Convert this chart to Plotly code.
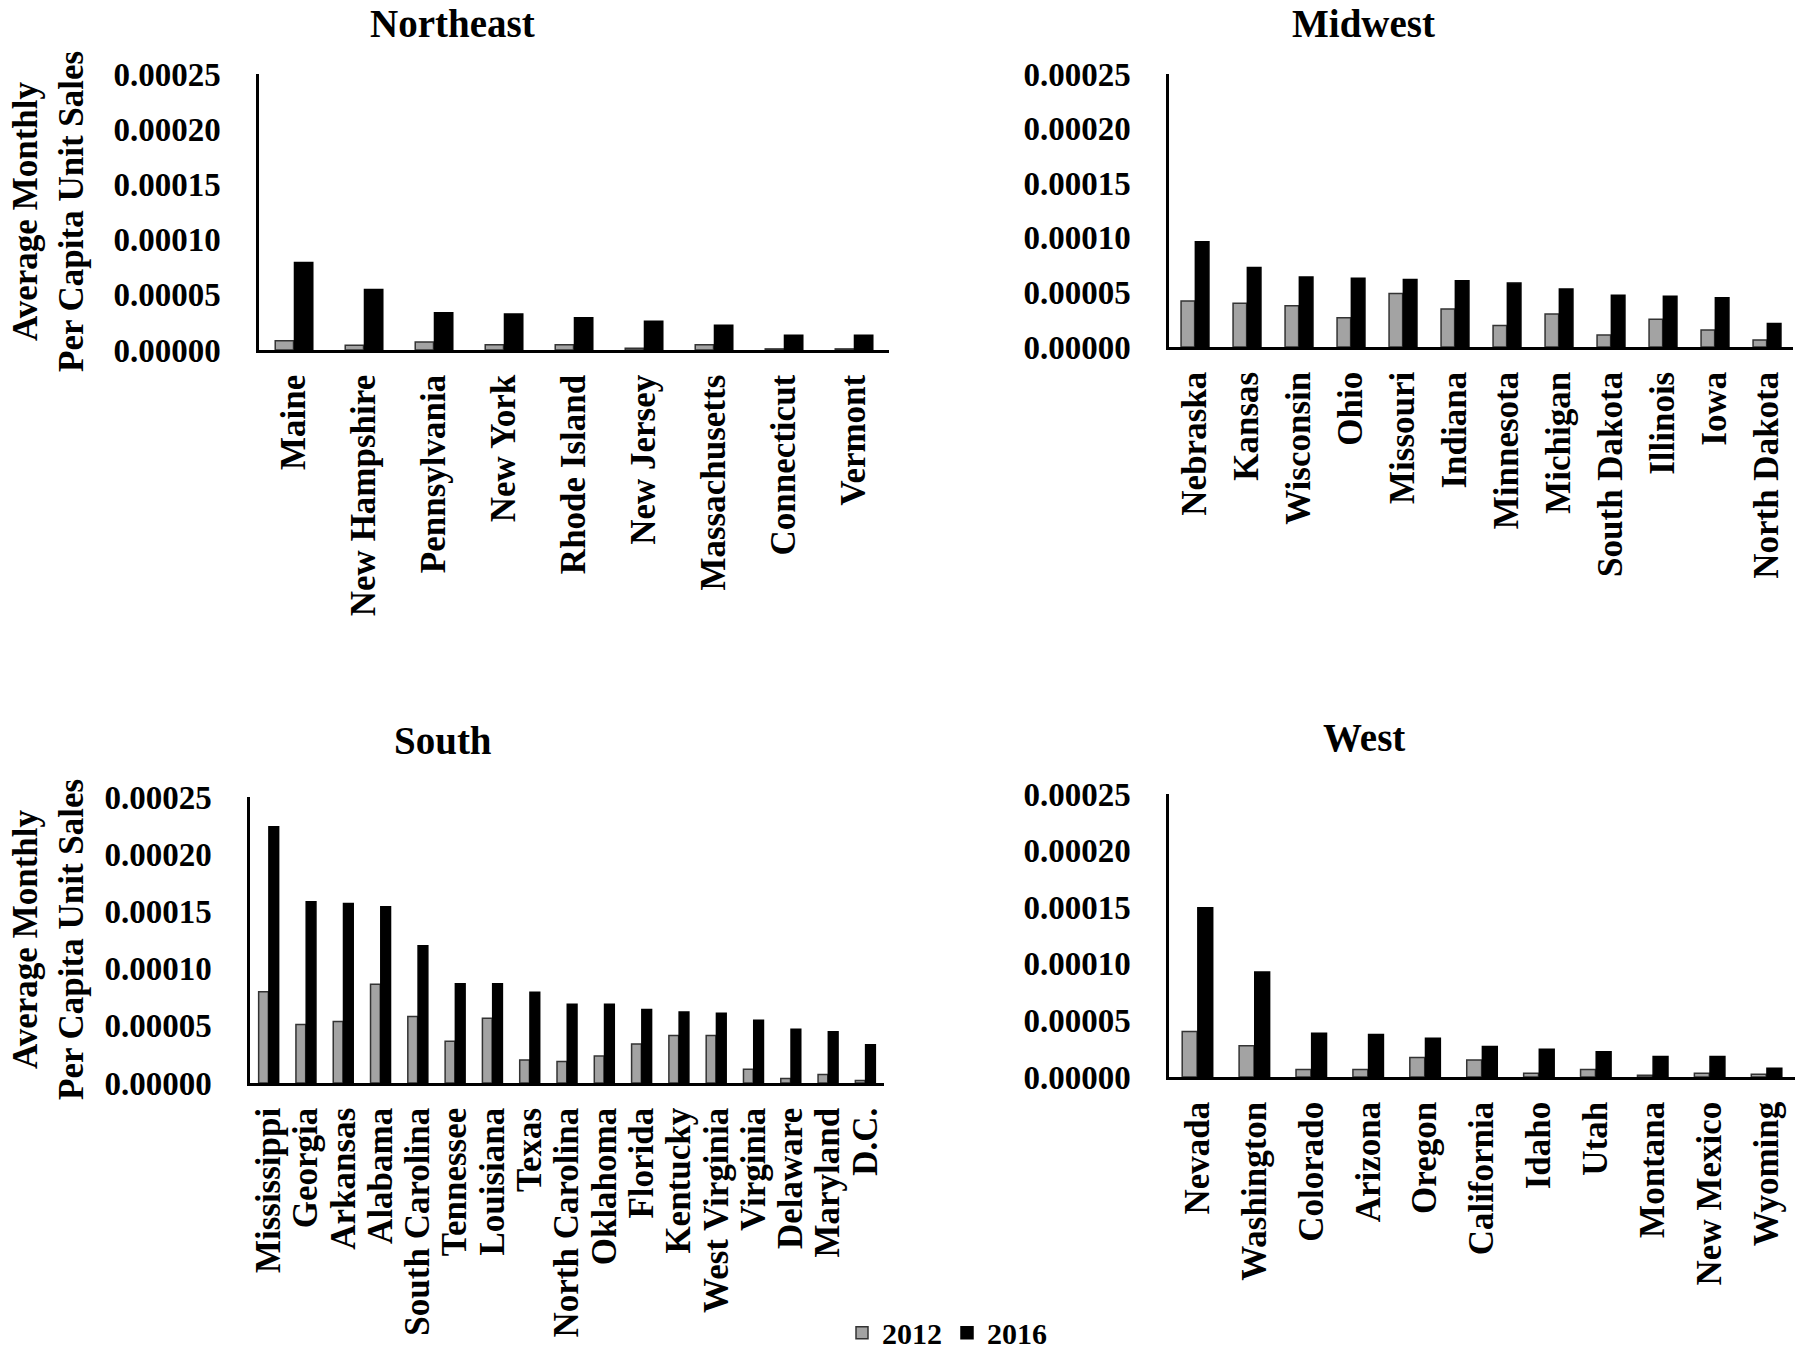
import plotly.graph_objects as go

# ---------------- data ----------------
ne_states = ["Maine", "New Hampshire", "Pennsylvania", "New York", "Rhode Island",
             "New Jersey", "Massachusetts", "Connecticut", "Vermont"]
ne_2012 = [0.0000083, 0.0000043, 0.0000072, 0.0000047, 0.0000047, 0.0000015, 0.0000047, 0.0000010, 0.0000010]
ne_2016 = [0.0000793, 0.0000547, 0.0000337, 0.0000326, 0.0000293, 0.0000261, 0.0000225, 0.0000134, 0.0000134]

mw_states = ["Nebraska", "Kansas", "Wisconsin", "Ohio", "Missouri", "Indiana", "Minnesota",
             "Michigan", "South Dakota", "Illinois", "Iowa", "North Dakota"]
mw_2012 = [0.0000422, 0.0000400, 0.0000378, 0.0000269, 0.0000491, 0.0000349, 0.0000196,
           0.0000302, 0.0000109, 0.0000255, 0.0000156, 0.0000065]
mw_2016 = [0.0000964, 0.0000727, 0.0000640, 0.0000629, 0.0000618, 0.0000607, 0.0000585,
           0.0000531, 0.0000473, 0.0000465, 0.0000451, 0.0000215]

s_states = ["Mississippi", "Georgia", "Arkansas", "Alabama", "South Carolina", "Tennessee",
            "Louisiana", "Texas", "North Carolina", "Oklahoma", "Florida", "Kentucky",
            "West Virginia", "Virginia", "Delaware", "Maryland", "D.C."]
s_2012 = [0.0000798, 0.0000511, 0.0000537, 0.0000864, 0.0000581, 0.0000364, 0.0000566,
          0.0000202, 0.0000188, 0.0000235, 0.0000342, 0.0000415, 0.0000415, 0.0000121,
          0.0000040, 0.0000074, 0.0000022]
s_2016 = [0.0002240, 0.0001585, 0.0001570, 0.0001540, 0.0001200, 0.0000868, 0.0000868,
          0.0000794, 0.0000688, 0.0000688, 0.0000643, 0.0000621, 0.0000610, 0.0000548,
          0.0000470, 0.0000449, 0.0000335]

w_states = ["Nevada", "Washington", "Colorado", "Arizona", "Oregon", "California", "Idaho",
            "Utah", "Montana", "New Mexico", "Wyoming"]
w_2012 = [0.0000401, 0.0000277, 0.0000066, 0.0000066, 0.0000172, 0.0000150, 0.0000033,
          0.0000066, 0.0000015, 0.0000033, 0.0000025]
w_2016 = [0.0001496, 0.0000927, 0.0000387, 0.0000376, 0.0000343, 0.0000270, 0.0000245,
          0.0000223, 0.0000182, 0.0000182, 0.0000077]

region_titles = ["Northeast", "Midwest", "South", "West"]
series_names = ["2012", "2016"]
y_ticks = [0, 0.00005, 0.0001, 0.00015, 0.0002, 0.00025]
y_title = "Average Monthly<br>Per Capita Unit Sales"

# ---------------- figure ----------------
W, H = 1800, 1352
FONT = "Liberation Serif, Times New Roman, serif"
C2012 = "#a3a3a3"
C2016 = "#000000"

panels = [
    (ne_states, ne_2012, ne_2016, (259, 889), (74, 350), True, (453, 24)),
    (mw_states, mw_2012, mw_2016, (1169, 1793), (74, 347), False, (1363, 24)),
    (s_states, s_2012, s_2016, (250, 884), (797, 1083), True, (443, 740)),
    (w_states, w_2012, w_2016, (1169, 1795), (794, 1077), False, (1364, 738)),
]

fig = go.Figure()
layout_axes = {}
annotations = []
for i, (cats, v12, v16, (x0, x1), (ytop, ybot), has_ytitle, (tx, ty)) in enumerate(panels):
    n = "" if i == 0 else str(i + 1)
    xa, ya = "x" + n, "y" + n
    fig.add_trace(go.Bar(x=cats, y=v12, name=series_names[0], xaxis=xa, yaxis=ya,
                         marker=dict(color=C2012, line=dict(color="#333333", width=1.5)),
                         showlegend=(i == 0), legendgroup="a"))
    fig.add_trace(go.Bar(x=cats, y=v16, name=series_names[1], xaxis=xa, yaxis=ya,
                         marker=dict(color=C2016, line=dict(color="#000000", width=1.5)),
                         showlegend=(i == 0), legendgroup="b"))
    layout_axes["xaxis" + n] = dict(
        domain=[x0 / W, x1 / W], anchor=ya, showline=True, linecolor="black", linewidth=2.5,
        showgrid=False, zeroline=False, ticks="", tickangle=-90,
        tickmode="array", tickvals=cats, ticktext=cats,
        tickfont=dict(family=FONT, size=35, color="black", weight="bold"),
        ticklabelstandoff=8, fixedrange=True, automargin=False,
    )
    layout_axes["yaxis" + n] = dict(
        domain=[1 - ybot / H, 1 - ytop / H], anchor=xa, range=[0, 0.00025],
        tickvals=y_ticks, tickformat=".5f", showline=True, linecolor="black", linewidth=2.5,
        showgrid=False, zeroline=False, ticks="",
        tickfont=dict(family=FONT, size=33, color="black", weight="bold"),
        ticklabelstandoff=29, automargin=False, fixedrange=True,
    )
    annotations.append(dict(text=region_titles[i], x=tx / W, y=1 - ty / H, xref="paper", yref="paper",
                            xanchor="center", yanchor="middle", showarrow=False,
                            font=dict(family=FONT, size=39, color="black", weight="bold")))
    if has_ytitle:
        annotations.append(dict(text=y_title, x=48 / W, y=1 - ((ytop + ybot) / 2) / H,
                                xref="paper", yref="paper", xanchor="center", yanchor="middle",
                                textangle=-90, showarrow=False,
                                font=dict(family=FONT, size=35, color="black", weight="bold")))

fig.update_layout(
    width=W, height=H, margin=dict(l=0, r=0, t=0, b=0, autoexpand=False),
    paper_bgcolor="white", plot_bgcolor="white",
    barmode="group", bargap=0.45, bargroupgap=0.05,
    font=dict(family=FONT, color="black", weight="bold"),
    annotations=annotations,
    legend=dict(orientation="h", x=947 / W, y=-0.005, xanchor="center", yanchor="bottom",
                font=dict(family=FONT, size=30, color="black", weight="bold"),
                itemwidth=30, bgcolor="rgba(0,0,0,0)"),
    **layout_axes,
)

fig.write_html("out.html", config={"displayModeBar": False},
               post_script="document.body.style.margin='0';document.body.style.overflow='hidden';")
